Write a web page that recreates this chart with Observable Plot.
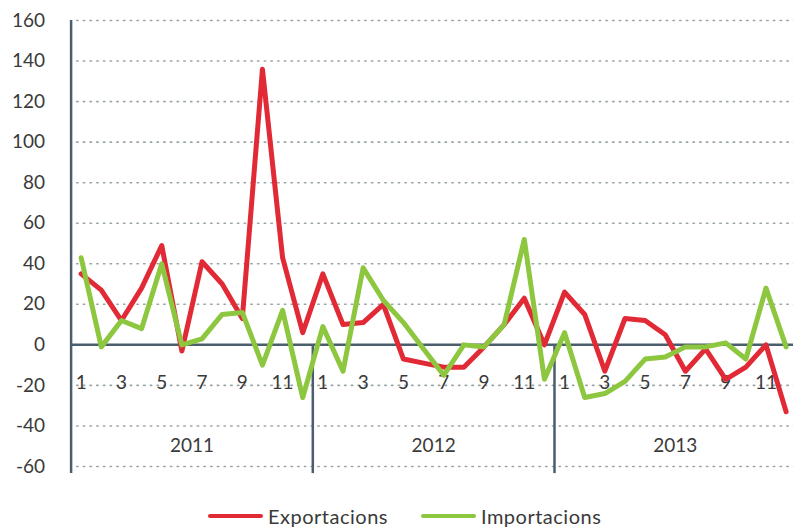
<!DOCTYPE html>
<html>
<head>
<meta charset="utf-8">
<script src="https://cdn.jsdelivr.net/npm/d3@7"></script>
<script src="https://cdn.jsdelivr.net/npm/@observablehq/plot@0.6"></script>
<style>
  body { margin: 0; background: #fff; font-family: Lato, "Noto Sans", sans-serif; }
  #chart { width: 793px; height: 527px; position: relative; overflow: hidden; }
  .legend { position: absolute; top: 504px; left: 208px; display: flex; align-items: center; font-size: 20px; letter-spacing: 0.5px; color: #3a3a3a; }
  .legend .item { display: flex; align-items: center; }
  .legend .sw { width: 55px; height: 4px; border-radius: 2px; margin-right: 5px; }
</style>
</head>
<body>
<div id="chart"></div>
<script>
const years = ["2011", "2012", "2013"];
const monthLabels = ["1", "", "3", "", "5", "", "7", "", "9", "", "11", ""];
const yTicks = [-60, -40, -20, 0, 20, 40, 60, 80, 100, 120, 140, 160];
const seriesNames = ["Exportacions", "Importacions"];
const seriesColors = ["#e12a36", "#8dc63f"];

const exportacions = [35, 27, 12, 28, 49, -3, 41, 30, 13, 136, 43, 6,
                      35, 10, 11, 20, -7, -9, -11, -11, -1, 10, 23, 0,
                      26, 15, -13, 13, 12, 5, -13, -2, -17, -11, 0, -33];
const importacions = [43, -1, 12, 8, 40, 0, 3, 15, 16, -10, 17, -26,
                      9, -13, 38, 22, 11, -2, -15, 0, -1, 10, 52, -17,
                      6, -26, -24, -18, -7, -6, -1, -1, 1, -7, 28, -1];

const n = exportacions.length;
const idx = d3.range(n);
const monthTicks = idx.map(i => ({i, label: monthLabels[i % 12]})).filter(d => d.label !== "");
const yearTicks = years.map((y, k) => ({x: k * 12 + 5.5, label: y}));
const separators = years.slice(1).map((y, k) => (k + 1) * 12 - 0.5);
const axisColor = "#4a5e6d";

const plot = Plot.plot({
  width: 793,
  height: 490,
  marginLeft: 71,
  marginRight: 0,
  marginTop: 20,
  marginBottom: 24,
  style: {fontFamily: "Lato, 'Noto Sans', sans-serif", fontSize: "19px", color: "#3a3a3a", background: "#fff"},
  x: {domain: [-0.5, n - 0.5], range: [70.6, 795.7], axis: null},
  y: {domain: [-60, 160], range: [466, 20], axis: null},
  marks: [
    Plot.ruleY(yTicks.filter(t => t !== 0), {x1: -0.2, x2: n - 0.5, stroke: "#9aa5a5", strokeWidth: 1.6, strokeDasharray: "1.4 5.3", strokeLinecap: "round"}),
    Plot.text(monthTicks, {x: "i", y: -18.8, text: "label", fill: "#3a3a3a", fontSize: 19}),
    Plot.text(yearTicks, {x: "x", y: -50, text: "label", fill: "#3a3a3a", fontSize: 19}),
    Plot.text(yTicks, {x: -0.5, y: d => d, text: d => String(d), textAnchor: "end", dx: -26, fill: "#3a3a3a", fontSize: 19}),
    Plot.ruleY([0], {x1: -0.5, x2: n - 0.5, stroke: axisColor, strokeWidth: 2.5}),
    Plot.ruleX([-0.5], {y1: -63.5, y2: 160, stroke: axisColor, strokeWidth: 2.5}),
    Plot.ruleX(separators, {y1: -63.5, y2: 0, stroke: axisColor, strokeWidth: 2.5}),
    Plot.lineY(exportacions, {x: (d, i) => i, y: d => d, stroke: seriesColors[0], strokeWidth: 5}),
    Plot.lineY(importacions, {x: (d, i) => i, y: d => d, stroke: seriesColors[1], strokeWidth: 5})
  ]
});

const chart = document.getElementById("chart");
chart.appendChild(plot);

const legend = document.createElement("div");
legend.className = "legend";
seriesNames.forEach((name, k) => {
  const item = document.createElement("div");
  item.className = "item";
  if (k > 0) item.style.marginLeft = "33px";
  const sw = document.createElement("span");
  sw.className = "sw";
  sw.style.background = seriesColors[k];
  const t = document.createElement("span");
  t.textContent = name;
  item.appendChild(sw);
  item.appendChild(t);
  legend.appendChild(item);
});
chart.appendChild(legend);
</script>
</body>
</html>
